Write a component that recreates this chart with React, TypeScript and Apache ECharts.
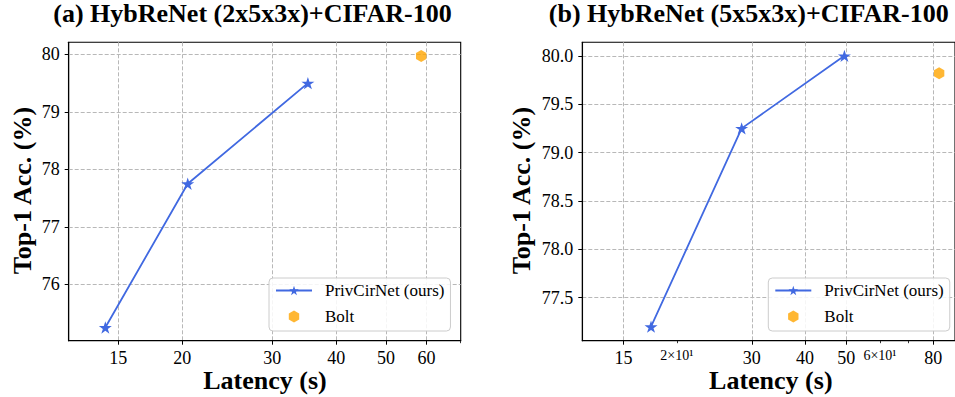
import React, { useEffect, useRef } from 'react';
import * as echarts from 'echarts';

// ---------- data ----------
const seriesNames = ['PrivCirNet (ours)', 'Bolt'];
const titleA = '(a) HybReNet (2x5x3x)+CIFAR-100';
const titleB = '(b) HybReNet (5x5x3x)+CIFAR-100';
const xName = 'Latency (s)';
const yName = 'Top-1 Acc. (%)';

const latencyA = [14.15, 20.5, 35.2];
const accA = [75.25, 77.75, 79.5];
const boltLatencyA = [58.6];
const boltAccA = [79.97];

const latencyB = [17.4, 28.4, 49.5];
const accB = [77.2, 79.25, 80.0];
const boltLatencyB = [82.6];
const boltAccB = [79.82];

const xRangeA = [12, 70];
const xRangeB = [12, 90];
const yRangeA = [75.02, 80.21];
const yRangeB = [77.055, 80.14];

const xMajorA = [15, 20, 30, 40, 50, 60];
const xMinorA = [70];
const xMajorB = [15, 30, 40, 50, 80];
const xMinorB = [20, 60, 70, 90];
const xMinorLabelsB = [20, 60];
const yTicksA = [76, 77, 78, 79, 80];
const yTicksB = [77.5, 78.0, 78.5, 79.0, 79.5, 80.0];

// ---------- styles ----------
const FONT = '"Liberation Serif", "Times New Roman", serif';
const BLUE = '#4169E1';
const ORANGE = '#FFA500';
const STAR =
  'path://M0,-1L0.2245,-0.309L0.951,-0.309L0.363,0.118L0.588,0.809L0,0.382L-0.588,0.809L-0.363,0.118L-0.951,-0.309L-0.2245,-0.309Z';
const HEX = 'path://M0,-1L0.866,-0.5L0.866,0.5L0,1L-0.866,0.5L-0.866,-0.5Z';

const lg = (v: number) => Math.log10(v);

function majorX(gridIndex: number, range: number[], major: number[], labels: number[], minorLabels: number[]) {
  return {
    type: 'value',
    gridIndex,
    position: 'bottom',
    min: lg(range[0]),
    max: lg(range[1]),
    axisLine: { show: true, onZero: false, lineStyle: { color: '#000', width: 1.1 } },
    axisTick: { show: true, customValues: major.map(lg), length: 4, lineStyle: { color: '#000', width: 1 } },
    axisLabel: {
      customValues: labels.map(lg),
      margin: 8,
      color: '#000',
      fontFamily: FONT,
      fontSize: 18,
      formatter: (v: number) => {
        const n = Math.round(Math.pow(10, v));
        if (minorLabels.indexOf(n) >= 0) return '{m|' + n / 10 + '×10¹}';
        return String(n);
      },
      rich: { m: { fontSize: 14, fontFamily: FONT, color: '#000', padding: [0, 0, 4, 0] } },
    },
    splitLine: { show: true, lineStyle: { color: '#b8b8b8', width: 1, type: [4, 2] } },
  };
}

function minorX(gridIndex: number, range: number[], minor: number[]) {
  return {
    type: 'value',
    gridIndex,
    position: 'bottom',
    min: lg(range[0]),
    max: lg(range[1]),
    axisLine: { show: false, onZero: false },
    axisTick: { show: true, customValues: minor.map(lg), length: 2.5, lineStyle: { color: '#000', width: 0.8 } },
    axisLabel: { show: false },
    splitLine: { show: false },
  };
}

function yAx(gridIndex: number, range: number[], ticks: number[], digits: number) {
  return {
    type: 'value',
    gridIndex,
    min: range[0],
    max: range[1],
    axisLine: { show: true, onZero: false, lineStyle: { color: '#000', width: 1.1 } },
    axisTick: { show: true, customValues: ticks, length: 4, lineStyle: { color: '#000', width: 1 } },
    axisLabel: {
      customValues: ticks,
      margin: 9,
      color: '#000',
      fontFamily: FONT,
      fontSize: 18,
      formatter: (v: number) => v.toFixed(digits),
    },
    splitLine: { show: true, lineStyle: { color: '#b8b8b8', width: 1, type: [4, 2] } },
  };
}

function lineSeries(xi: number, yi: number, lat: number[], acc: number[]) {
  return {
    type: 'line',
    name: seriesNames[0],
    xAxisIndex: xi,
    yAxisIndex: yi,
    data: lat.map((x, i) => [lg(x), acc[i]]),
    symbol: STAR,
    symbolSize: 13,
    symbolKeepAspect: true,
    lineStyle: { color: BLUE, width: 1.8 },
    itemStyle: { color: BLUE },
    z: 3,
  };
}

function boltSeries(xi: number, yi: number, lat: number[], acc: number[]) {
  return {
    type: 'scatter',
    name: seriesNames[1],
    xAxisIndex: xi,
    yAxisIndex: yi,
    data: lat.map((x, i) => [lg(x), acc[i]]),
    symbol: HEX,
    symbolSize: 12,
    symbolKeepAspect: true,
    itemStyle: { color: ORANGE },
    z: 3,
  };
}

function legend(left: number, top: number) {
  return {
    data: seriesNames,
    orient: 'vertical',
    left,
    top,
    itemWidth: 36,
    itemHeight: 12,
    itemGap: 9,
    padding: [4, 6, 6, 6],
    backgroundColor: 'rgba(255,255,255,0.85)',
    borderColor: '#cccccc',
    borderWidth: 1,
    borderRadius: 4,
    selectedMode: false,
    textStyle: { fontFamily: FONT, fontSize: 17, color: '#000', padding: [0, 0, 0, 8] },
  };
}

function txt(text: string, x: number, y: number, rotation = 0) {
  return {
    type: 'text',
    x,
    y,
    rotation,
    silent: true,
    style: {
      text,
      font: 'bold 26px ' + FONT,
      fill: '#000',
      textAlign: 'center',
      textVerticalAlign: 'middle',
    },
  };
}

export default function App() {
  const ref = useRef<HTMLDivElement>(null);
  useEffect(() => {
    if (!ref.current) return;
    const chart = echarts.init(ref.current, undefined, { renderer: 'svg' });
    chart.setOption({
      animation: false,
      backgroundColor: '#fff',
      textStyle: { fontFamily: FONT },
      grid: [
        { left: 68.7, top: 42.3, width: 392, height: 298.4, show: true, borderColor: '#000', borderWidth: 1.1, backgroundColor: 'transparent' },
        { left: 582.3, top: 42.3, width: 378, height: 298.4, show: true, borderColor: '#000', borderWidth: 1.1, backgroundColor: 'transparent' },
      ],
      xAxis: [
        majorX(0, xRangeA, xMajorA, xMajorA, []),
        minorX(0, xRangeA, xMinorA),
        majorX(1, xRangeB, xMajorB, xMajorB.concat(xMinorLabelsB), xMinorLabelsB),
        minorX(1, xRangeB, xMinorB),
      ],
      yAxis: [yAx(0, yRangeA, yTicksA, 0), yAx(1, yRangeB, yTicksB, 1)],
      legend: [legend(269, 278), legend(768.3, 278)],
      series: [
        lineSeries(0, 0, latencyA, accA),
        boltSeries(0, 0, boltLatencyA, boltAccA),
        lineSeries(2, 1, latencyB, accB),
        boltSeries(2, 1, boltLatencyB, boltAccB),
      ],
      graphic: [
        txt(titleA, 252.5, 13.5),
        txt(titleB, 748.8, 13.5),
        txt(xName, 265, 380.5),
        txt(xName, 770.8, 380.5),
        txt(yName, 22.3, 190.5, Math.PI / 2),
        txt(yName, 521.2, 190.5, Math.PI / 2),
      ],
    });
    return () => chart.dispose();
  }, []);
  return (
    <div
      ref={ref}
      style={{ position: 'fixed', left: 0, top: 0, width: 955, height: 397, background: '#fff' }}
    />
  );
}
